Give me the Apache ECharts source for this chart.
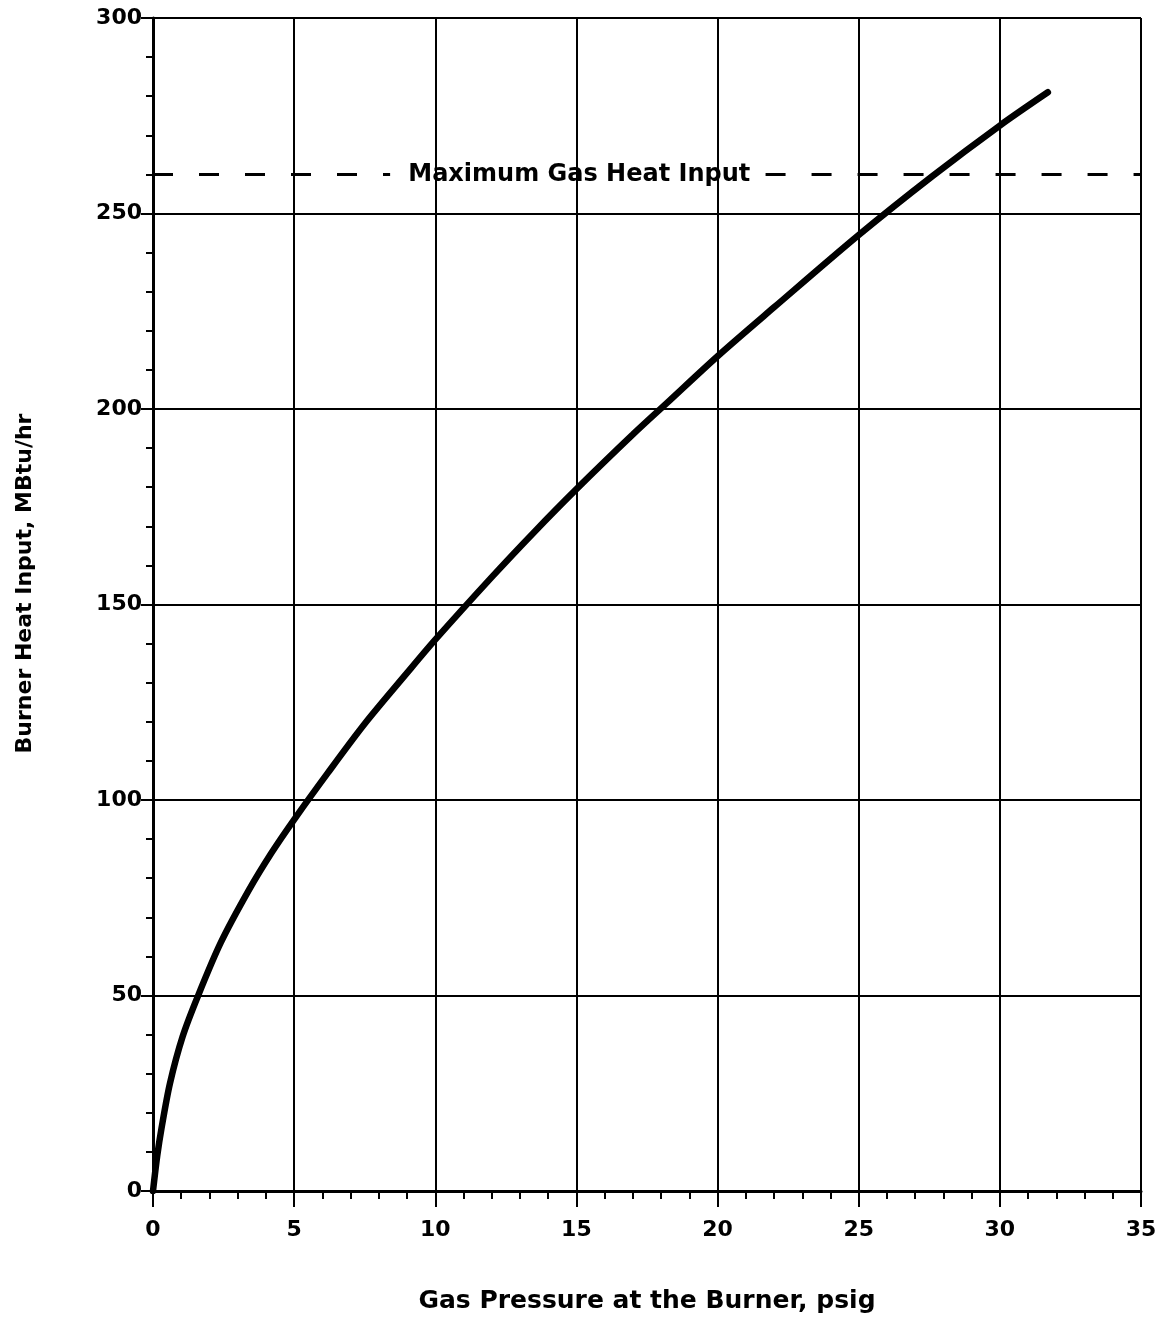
<!DOCTYPE html>
<html>
<head>
<meta charset="utf-8">
<script src="https://cdn.jsdelivr.net/npm/echarts@6/dist/echarts.min.js"></script>
<style>
  html, body { margin: 0; padding: 0; background: #fff; }
  #chart { width: 1164px; height: 1324px; }
</style>
</head>
<body>
<div id="chart"></div>
<script>
// gas pressure (psig) and burner heat input (MBtu/hr)
const pressure = [0, 0.15, 0.3, 0.6, 1.05, 1.6, 2.4, 3.4, 4.2, 5, 6.2, 7.5, 9, 10, 12, 13.5, 15, 17, 18.2, 20, 22, 25, 27.6, 30, 31.7]
const heatInput = [0, 9, 16, 27.5, 39.5, 50, 63.5, 77, 86.5, 95, 107, 119.5, 132.5, 141, 157, 168.5, 179.5, 193.5, 201.5, 213.5, 226, 244.5, 259.5, 272.5, 281]

// maximum heat input reference line, broken around its label
const maxHeatInput = 260
const maxLabel = 'Maximum Gas Heat Input'
const maxLabelAt = 15.1
const maxGap = [8.4, 21.7]

const xTicks = [0, 5, 10, 15, 20, 25, 30, 35]
const yTicks = [0, 50, 100, 150, 200, 250, 300]

const font = 'DejaVu Sans'

const chart = echarts.init(document.getElementById('chart'))

const curve = pressure.map((p, i) => [p, heatInput[i]])
const xMin = xTicks[0]
const xMax = xTicks[xTicks.length - 1]

const option = {
  backgroundColor: '#fff',
  animation: false,
  grid: {
    left: 153,
    right: 23,
    top: 18,
    bottom: 133,
    containLabel: false
  },
  xAxis: {
    type: 'value',
    min: xMin,
    max: xMax,
    interval: 5,
    name: 'Gas Pressure at the Burner, psig',
    nameLocation: 'middle',
    nameGap: 98,
    nameTextStyle: { color: '#000', fontFamily: font, fontWeight: 'bold', fontSize: 25 },
    axisLine: { show: true, onZero: false, lineStyle: { color: '#000', width: 3 } },
    axisTick: { show: true, inside: false, length: 16, lineStyle: { color: '#000', width: 2 } },
    minorTick: { show: true, splitNumber: 5, length: 8, lineStyle: { color: '#000', width: 2 } },
    axisLabel: { color: '#000', fontFamily: font, fontWeight: 'bold', fontSize: 22, margin: 28 },
    splitLine: { show: true, lineStyle: { color: '#000', width: 2 } }
  },
  yAxis: {
    type: 'value',
    min: yTicks[0],
    max: yTicks[yTicks.length - 1],
    interval: 50,
    name: 'Burner Heat Input, MBtu/hr',
    nameLocation: 'middle',
    nameGap: 117,
    nameRotate: 90,
    nameTextStyle: { color: '#000', fontFamily: font, fontWeight: 'bold', fontSize: 22, padding: [0, 0, 0, 42] },
    axisLine: { show: true, onZero: false, lineStyle: { color: '#000', width: 3 } },
    axisTick: { show: true, inside: false, length: 12, lineStyle: { color: '#000', width: 2 } },
    minorTick: { show: true, splitNumber: 5, length: 7, lineStyle: { color: '#000', width: 2 } },
    axisLabel: { color: '#000', fontFamily: font, fontWeight: 'bold', fontSize: 22, margin: 11 },
    splitLine: { show: true, lineStyle: { color: '#000', width: 2 } }
  },
  series: [
    {
      name: 'Burner Heat Input',
      type: 'line',
      data: curve,
      smooth: 0.3,
      showSymbol: false,
      lineStyle: { color: '#000', width: 6.5, cap: 'round' },
      z: 3,
      markLine: {
        silent: true,
        symbol: 'none',
        label: { show: false },
        lineStyle: { color: '#000', width: 3, type: [20, 26] },
        data: [
          [{ coord: [xMin, maxHeatInput] }, { coord: [maxGap[0], maxHeatInput] }],
          [{ coord: [maxGap[1], maxHeatInput] }, { coord: [xMax, maxHeatInput] }]
        ]
      }
    },
    {
      name: 'label',
      type: 'scatter',
      data: [[maxLabelAt, maxHeatInput]],
      symbolSize: 0,
      silent: true,
      z: 4,
      itemStyle: { opacity: 1 },
      label: {
        show: true,
        position: 'inside',
        formatter: maxLabel,
        color: '#000',
        opacity: 1,
        fontFamily: font,
        fontWeight: 'bold',
        fontSize: 24
      }
    }
  ]
}

chart.setOption(option)
</script>
</body>
</html>
